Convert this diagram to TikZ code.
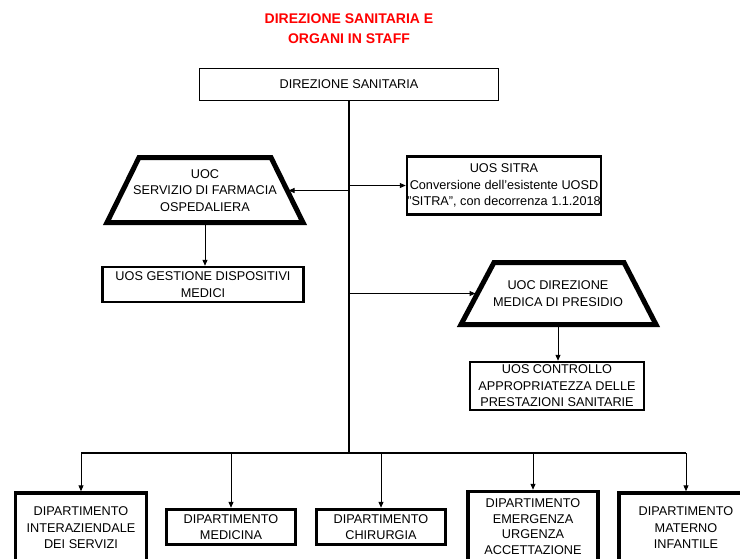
\documentclass[tikz,border=0pt]{standalone}
\usepackage{fontspec}
\setmainfont{Liberation Sans}
\usetikzlibrary{arrows.meta,calc}

\begin{document}
\begin{tikzpicture}[x=1pt, y=-1pt, line join=miter,
        >={Triangle[length=6pt,width=5pt]},
        every node/.style={font=\fontsize{12.7}{16.5}\selectfont, align=center, inner sep=0pt},
        titolo/.style={font=\bfseries\fontsize{14}{20}\selectfont, text=red},
        uos/.style={draw, line width=2.5pt},
        dip/.style={draw, line width=3.5pt},
        uoc/.style={draw, line width=5pt},
        freccia/.style={->, line width=1pt}]

                \useasboundingbox (0,0) rectangle (740,558);

                \node[titolo] (tit) at (349,29) {DIREZIONE SANITARIA E\\ORGANI IN STAFF};

                \node[draw, line width=0.8pt, minimum width=299, minimum height=32] (ds) at (349,84) {DIREZIONE SANITARIA};
                \coordinate (bus) at (349,453);

                % staff
                \node (farm) at (205,190.5) {UOC\\SERVIZIO DI FARMACIA\\OSPEDALIERA};
                \draw[uoc, shift={(farm)}] (-66,-33) -- (66,-33) -- (98,32) -- (-98,32) -- cycle;
                \coordinate (farmE) at ($(farm)+(83.5,0)$);
                \coordinate (farmS) at ($(farm)+(0,34.5)$);
                \node[uos, minimum width=194, minimum height=58] (sitra) at (504,185.5) {UOS SITRA\\Conversione dell'esistente UOSD\\"SITRA", con decorrenza 1.1.2018};
                \node[uos, minimum width=201, minimum height=35] (gest) at (203,284.5) {UOS GESTIONE DISPOSITIVI\\MEDICI};
                \node (dmp) at (558,293.5) {UOC DIREZIONE\\MEDICA DI PRESIDIO};
                \draw[uoc, shift={(dmp)}] (-64,-31) -- (66,-31) -- (98,31) -- (-97,31) -- cycle;
                \coordinate (dmpW) at ($(dmp)+(-82.5,0)$);
                \coordinate (dmpS) at ($(dmp)+(0,33.5)$);
                \node[uos, minimum width=174, minimum height=48] (ctrl) at (557,386) {UOS CONTROLLO\\APPROPRIATEZZA DELLE\\PRESTAZIONI SANITARIE};

                % dipartimenti
                \node[dip, minimum width=131, minimum height=70] (dip1) at (81,528) {DIPARTIMENTO\\INTERAZIENDALE\\DEI SERVIZI};
                \node[dip, minimum width=129, minimum height=35] (dip2) at (231,527) {DIPARTIMENTO\\MEDICINA};
                \node[dip, minimum width=129, minimum height=35] (dip3) at (381,527) {DIPARTIMENTO\\CHIRURGIA};
                \node[dip, minimum width=130, minimum height=70, font=\fontsize{12.7}{15.6}\selectfont] (dip4) at (533,526.5) {DIPARTIMENTO\\EMERGENZA\\URGENZA\\ACCETTAZIONE};
                \node[dip, minimum width=134, minimum height=70] (dip5) at (686,528) {DIPARTIMENTO\\MATERNO\\INFANTILE};

                \draw[line width=2pt] (ds.south) -- (bus);
                \draw[freccia] (ds.south |- farmE) -- (farmE);
                \draw[freccia] (ds.south |- sitra.west) -- (sitra.west);
                \draw[freccia] (ds.south |- dmpW) -- (dmpW);
                \draw[freccia] (farmS) -- (farmS |- gest.north);
                \draw[freccia] (dmpS) -- (dmpS |- ctrl.north);

                \draw[line width=1.3pt] (dip1.north |- bus) -- (dip5.north |- bus);
                \foreach \d in {dip1,dip2,dip3,dip4,dip5}
                    \draw[freccia] (\d.north |- bus) -- (\d.north);

\end{tikzpicture}
\end{document}
